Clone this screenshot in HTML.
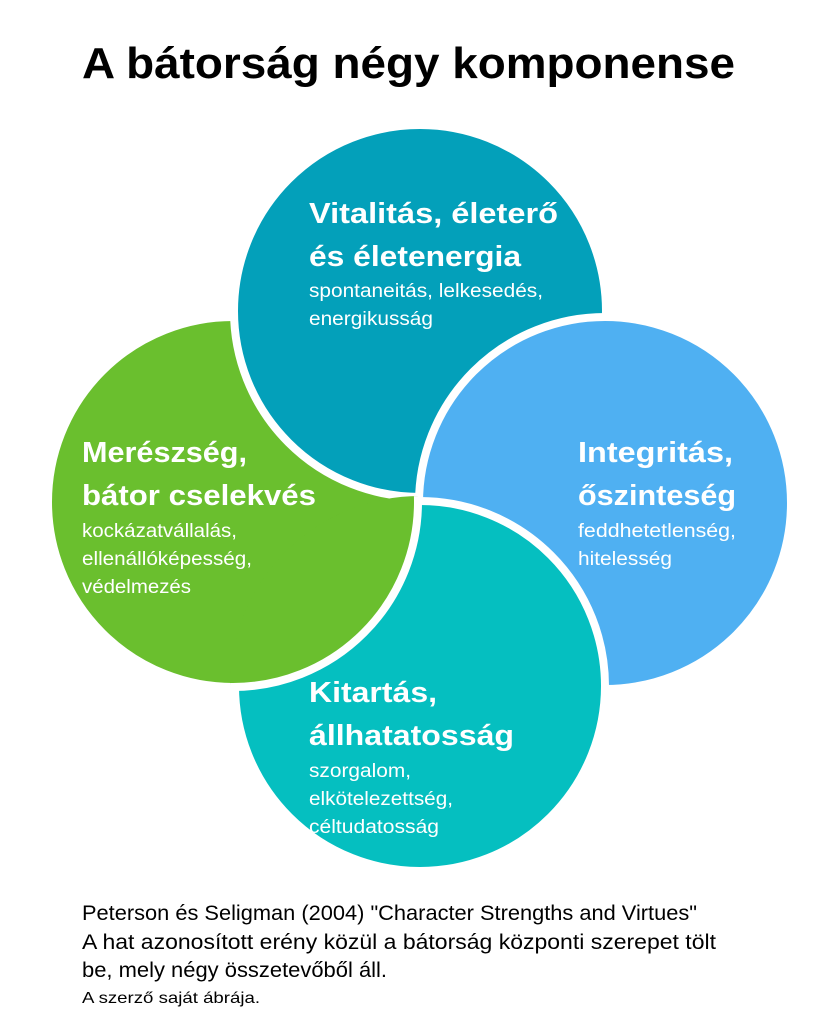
<!DOCTYPE html>
<html><head><meta charset="utf-8"><style>html,body{margin:0;padding:0;background:#fff}svg{display:block}</style></head>
<body>
<svg width="819" height="1024" viewBox="0 0 819 1024" xmlns="http://www.w3.org/2000/svg" font-family="'Liberation Sans', sans-serif">
<defs><clipPath id="low"><circle cx="420" cy="686" r="190"/></clipPath></defs>
<text x="82" y="78" font-size="44" font-weight="bold" fill="#000" textLength="653" lengthAdjust="spacingAndGlyphs">A bátorság négy komponense</text>
<g stroke="#fff" stroke-width="8">
<circle cx="233" cy="502" r="185" fill="#6abf2e"/>
<circle cx="420" cy="311" r="186" fill="#03a0ba"/>
<circle cx="605" cy="503" r="186" fill="#4fb0f2"/>
<circle cx="420" cy="686" r="185" fill="#05bfc0"/>
<circle cx="233" cy="502" r="185" fill="#6abf2e" clip-path="url(#low)"/>
</g>
<g fill="#fff">
<g font-weight="bold" font-size="29">
<text x="309" y="223" textLength="249" lengthAdjust="spacingAndGlyphs">Vitalitás, életerő</text>
<text x="309" y="266" textLength="212" lengthAdjust="spacingAndGlyphs">és életenergia</text>
<text x="82" y="462" textLength="165" lengthAdjust="spacingAndGlyphs">Merészség,</text>
<text x="82" y="505" textLength="234" lengthAdjust="spacingAndGlyphs">bátor cselekvés</text>
<text x="578" y="462" textLength="155" lengthAdjust="spacingAndGlyphs">Integritás,</text>
<text x="578" y="505" textLength="158" lengthAdjust="spacingAndGlyphs">őszinteség</text>
<text x="309" y="702" textLength="128" lengthAdjust="spacingAndGlyphs">Kitartás,</text>
<text x="309" y="745" textLength="205" lengthAdjust="spacingAndGlyphs">állhatatosság</text>
</g>
<g font-size="19">
<text x="309" y="297" textLength="234" lengthAdjust="spacingAndGlyphs">spontaneitás, lelkesedés,</text>
<text x="309" y="325" textLength="124" lengthAdjust="spacingAndGlyphs">energikusság</text>
<text x="82" y="537" textLength="155" lengthAdjust="spacingAndGlyphs">kockázatvállalás,</text>
<text x="82" y="565" textLength="170" lengthAdjust="spacingAndGlyphs">ellenállóképesség,</text>
<text x="82" y="593" textLength="109" lengthAdjust="spacingAndGlyphs">védelmezés</text>
<text x="578" y="537" textLength="158" lengthAdjust="spacingAndGlyphs">feddhetetlenség,</text>
<text x="578" y="565" textLength="94" lengthAdjust="spacingAndGlyphs">hitelesség</text>
<text x="309" y="777" textLength="102" lengthAdjust="spacingAndGlyphs">szorgalom,</text>
<text x="309" y="805" textLength="144" lengthAdjust="spacingAndGlyphs">elkötelezettség,</text>
<text x="309" y="833" textLength="130" lengthAdjust="spacingAndGlyphs">céltudatosság</text>
</g>
</g>
<g fill="#000" font-size="21">
<text x="82" y="920" textLength="615" lengthAdjust="spacingAndGlyphs">Peterson és Seligman (2004) "Character Strengths and Virtues"</text>
<text x="82" y="949" textLength="634" lengthAdjust="spacingAndGlyphs">A hat azonosított erény közül a bátorság központi szerepet tölt</text>
<text x="82" y="977" textLength="305" lengthAdjust="spacingAndGlyphs">be, mely négy összetevőből áll.</text>
<text x="82" y="1003" font-size="16" textLength="178" lengthAdjust="spacingAndGlyphs">A szerző saját ábrája.</text>
</g>
</svg>
</body></html>
